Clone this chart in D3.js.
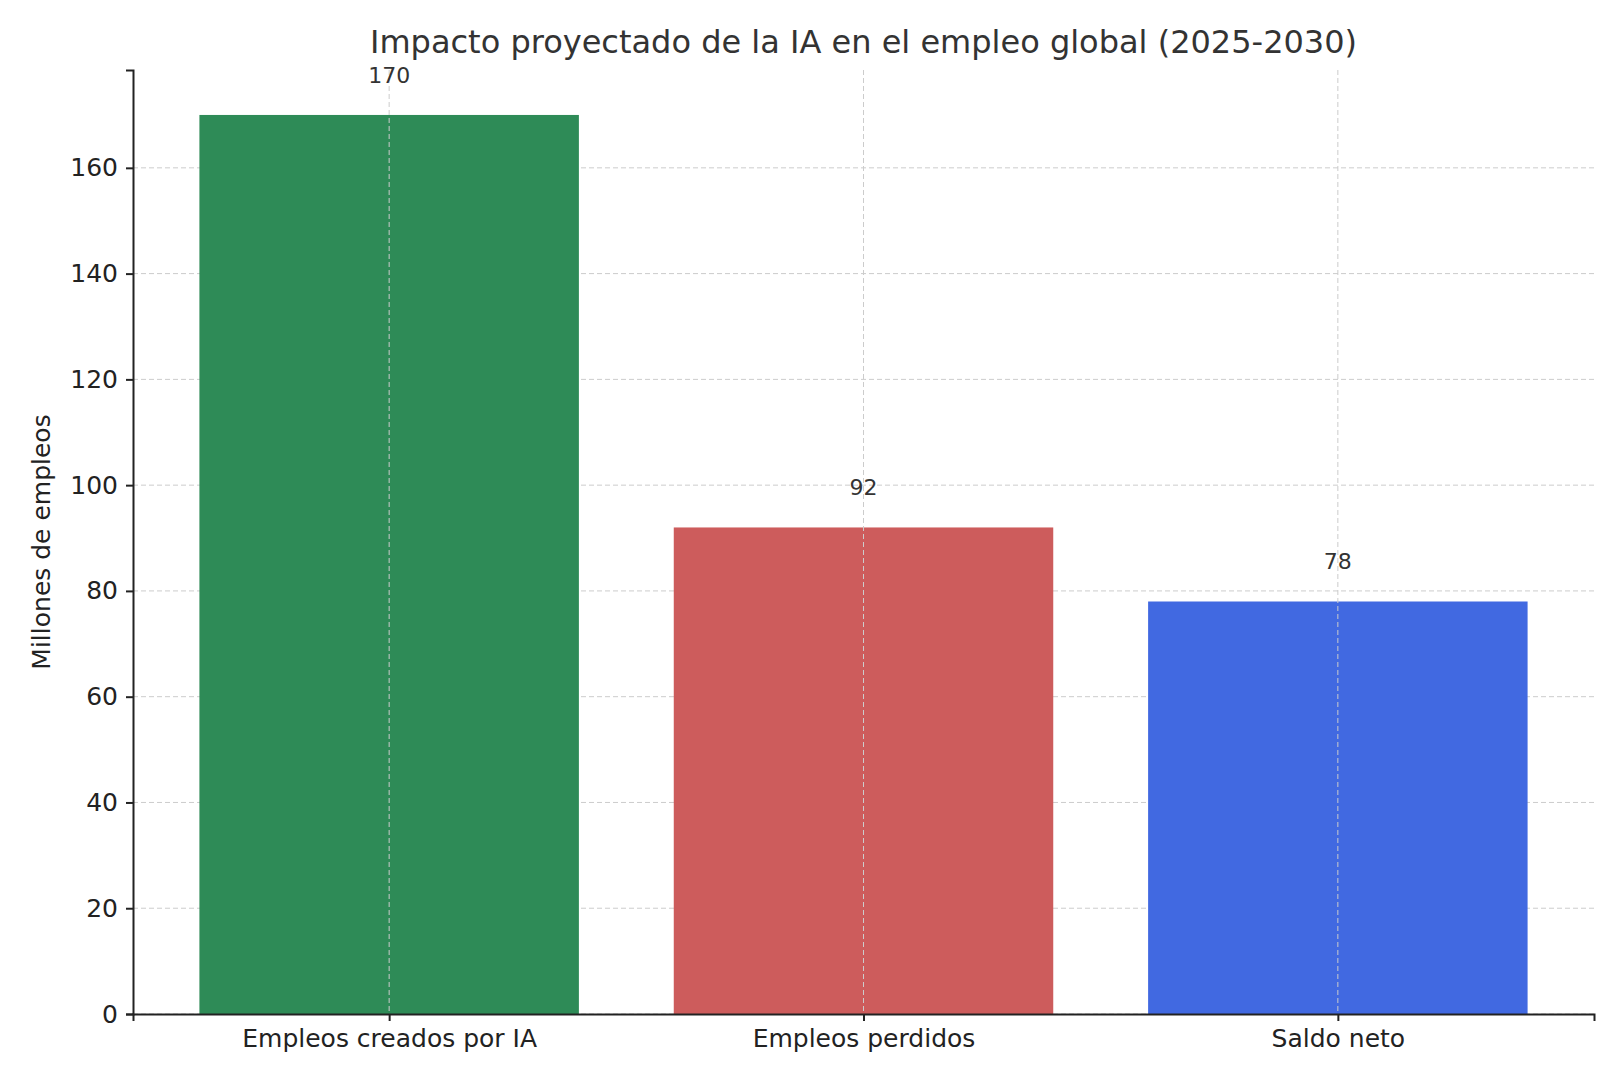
<!DOCTYPE html><html><head><meta charset="utf-8"><script src="https://cdn.jsdelivr.net/npm/d3@7"></script>
<style>body{margin:0;background:#fff}text{font-family:"DejaVu Sans",sans-serif}</style></head><body><svg id="c" width="1620" height="1080"></svg><script>
const categories=["Empleos creados por IA","Empleos perdidos","Saldo neto"];
const values=[170,92,78];
const colors=["#2e8b57","#cd5c5c","#4169e1"];
const yTicks=[0,20,40,60,80,100,120,140,160];
const svg=d3.select("#c");
const L=133,R=1594,T=70,B=1014;
const x=d3.scaleLinear().domain([-0.54,2.54]).range([L,R]);
const y=d3.scaleLinear().domain([0,178.5]).range([B,T]);
const g=svg.append("g");
// grid
g.selectAll(".gy").data(yTicks).join("line").attr("x1",L).attr("x2",R).attr("y1",d=>y(d)).attr("y2",d=>y(d)).attr("stroke","#ccc").attr("stroke-dasharray","5,3");
g.selectAll("rect").data(values).join("rect").attr("x",(d,i)=>x(i-0.4)).attr("width",x(0.8)-x(0)).attr("y",d=>y(d)).attr("height",d=>B-y(d)).attr("fill",(d,i)=>colors[i]);
g.selectAll(".gx").data(categories).join("line").attr("x1",(d,i)=>x(i)).attr("x2",(d,i)=>x(i)).attr("y1",T).attr("y2",B).attr("stroke","#ccc").attr("stroke-dasharray","5,3");
g.selectAll(".v").data(values).join("text").attr("x",(d,i)=>x(i)).attr("y",d=>y(d+5)-6).attr("text-anchor","middle").attr("font-size",22).attr("fill","#333").text(d=>d);
const ya=svg.append("g").attr("transform",`translate(${L},0)`).call(d3.axisLeft(y).tickValues(yTicks).tickSize(7).tickPadding(8));
const xa=svg.append("g").attr("transform",`translate(0,${B})`).call(d3.axisBottom(x).tickValues([0,1,2]).tickFormat(i=>categories[i]).tickSize(7).tickPadding(8));
[ya,xa].forEach(a=>{a.selectAll("text").attr("font-size",25).attr("fill","#222").style("font-family","DejaVu Sans");a.selectAll("line,path").attr("stroke","#222").attr("stroke-width",2);});
svg.append("text").attr("x",(L+R)/2).attr("y",53).attr("text-anchor","middle").attr("font-size",32).attr("fill","#333").text("Impacto proyectado de la IA en el empleo global (2025-2030)");
svg.append("text").attr("transform",`translate(50,${(T+B)/2}) rotate(-90)`).attr("text-anchor","middle").attr("font-size",25).attr("fill","#222").text("Millones de empleos");
</script></body></html>
